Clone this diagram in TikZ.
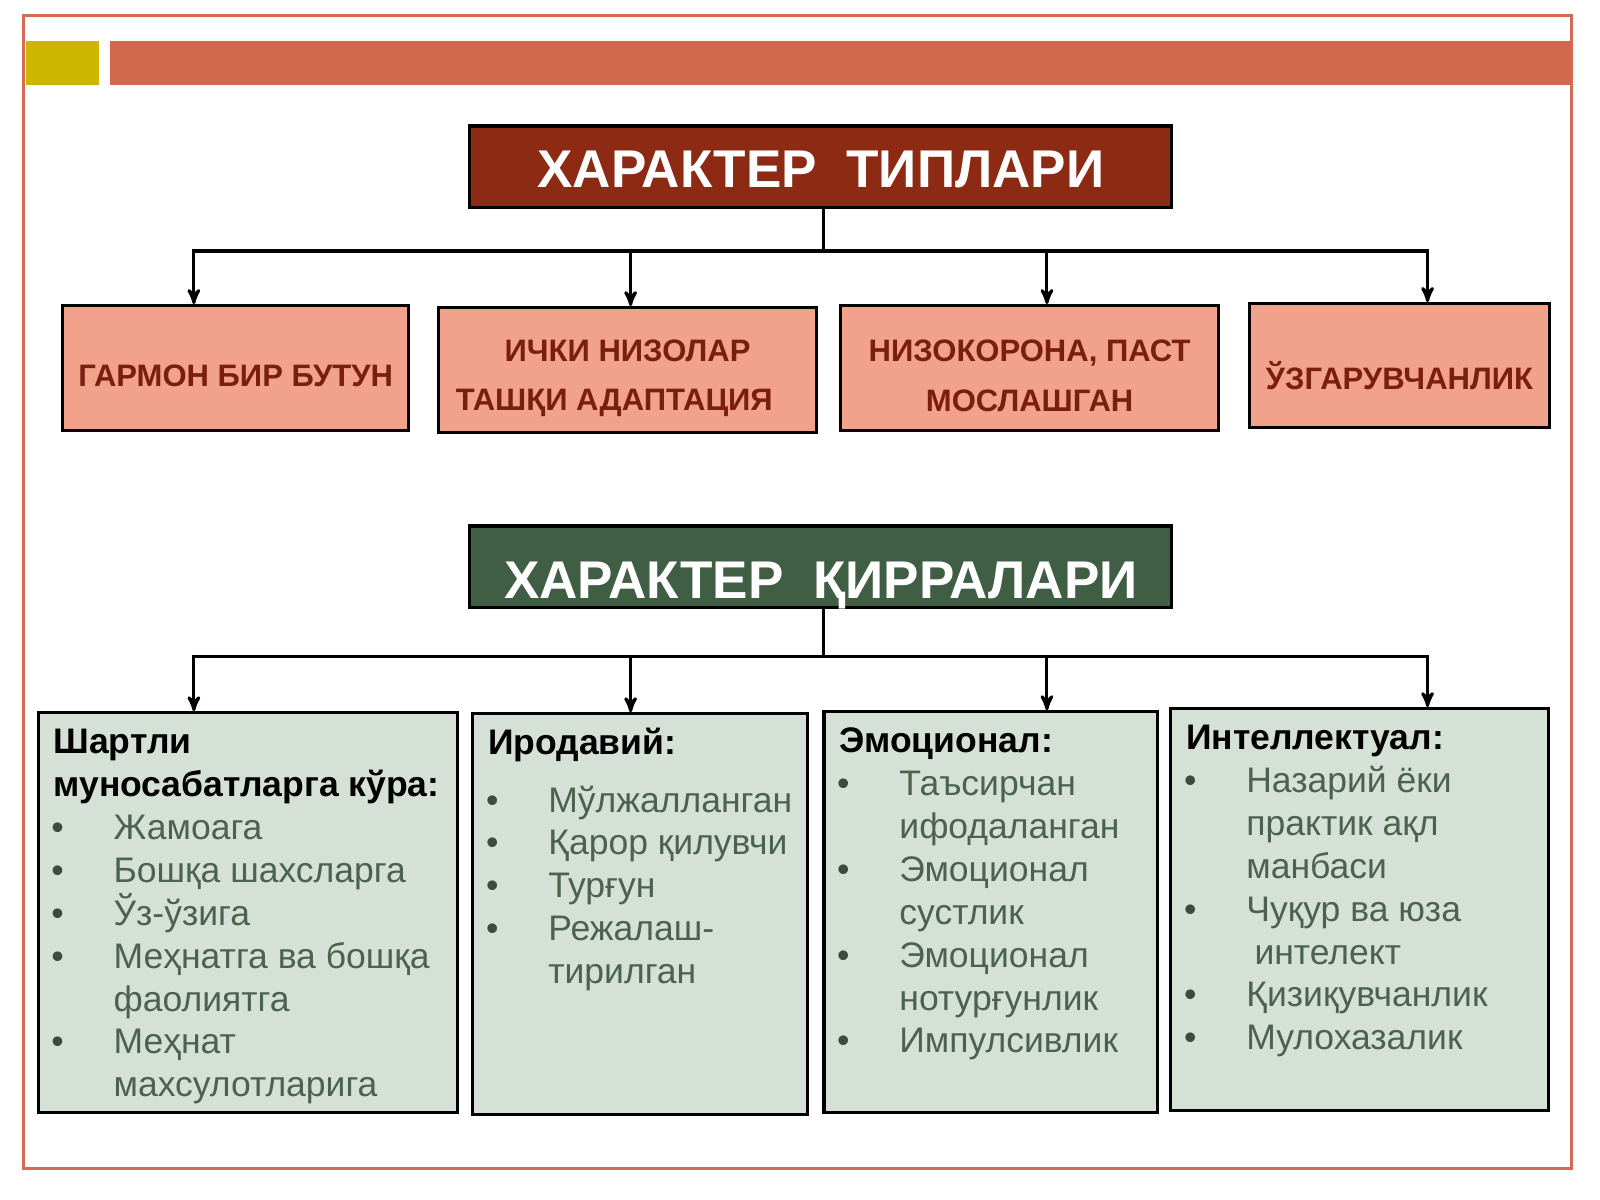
\documentclass[tikz,border=0pt]{standalone}
\usepackage{fontspec}
\setmainfont{Liberation Sans}
\usetikzlibrary{positioning,arrows}
\definecolor{frameRed}{HTML}{D86A55}
\definecolor{barRed}{HTML}{D2684E}
\definecolor{barYellow}{HTML}{CDB500}
\definecolor{titleRed}{HTML}{8C2A14}
\definecolor{titleGreen}{HTML}{3F5E44}
\definecolor{typeFill}{HTML}{F2A18B}
\definecolor{typeText}{HTML}{7A1F0F}
\definecolor{sideFill}{HTML}{D5E0D6}
\definecolor{itemText}{HTML}{4B624F}
\definecolor{bulletGrey}{HTML}{3E4A40}
\newcommand{\itm}{\makebox[29.5pt][l]{\hspace*{-1pt}{\color{bulletGrey}\textbullet}}}
\newcommand{\cnt}{\hspace*{29.5pt}}
\newcommand{\hd}[1]{\strut{\color{black}\bfseries #1}}

\begin{document}
\begin{tikzpicture}[x = 0.5pt, y = -0.5pt, >= stealth', on grid, every text node part/.style = {align = center},
  kindtitle/.style = {draw = black, line width = 1.5pt, minimum width = 344pt, minimum height = 40pt, inner sep = 0pt, text = white, text depth = 0pt, font = \fontsize{26}{30}\selectfont\bfseries},
  typebox/.style = {draw = black, line width = 1.5pt, fill = typeFill, inner sep = 0pt},
  typetext/.style = {inner sep = 0pt, text = typeText, font = \fontsize{15.2}{24.25}\selectfont\bfseries},
  sidebox/.style = {draw = black, line width = 1.5pt, fill = sideFill, inner sep = 0pt},
  listtext/.style = {inner sep = 0pt, anchor = north west, every text node part/.style = {align = left}, text = itemText, font = \fontsize{17.4}{21}\selectfont},
  wire/.style = {line width = 1.5pt}]
	\useasboundingbox (0,0) rectangle (1568,1176);
	\draw[frameRed, line width = 1.5pt] (23,15) rectangle (1540,1145);
	\fill[barYellow] (25,40) rectangle (97,83);
	\fill[barRed] (108,40) rectangle (1540,83);

	\node[kindtitle, fill = titleRed, text height = 20pt] (tt) at (804.5,163.5) {ХАРАКТЕР\ \ ТИПЛАРИ};
	\node[typebox, minimum width = 169.5pt, minimum height = 61pt] (t1) [below left = 98.5pt and 286.75pt of tt] {};
	\node[typebox, minimum width = 185.5pt, minimum height = 61pt] (t2) [below left = 99.5pt and 94.75pt of tt] {};
	\node[typebox, minimum width = 185.5pt, minimum height = 61pt] (t3) [below right = 98.5pt and 102.25pt of tt] {};
	\node[typebox, minimum width = 147pt, minimum height = 60.5pt] (t4) [below right = 97.25pt and 283.5pt of tt] {};
	\node[typetext] (t1txt) at ([yshift = -4pt]t1.center) {ГАРМОН БИР БУТУН};
	\node[typetext] (t2txt) at ([yshift = -4pt]t2.center) {ИЧКИ НИЗОЛАР\\ ТАШҚИ АДАПТАЦИЯ\hspace*{13pt}};
	\node[typetext] (t3txt) at ([yshift = -4pt]t3.center) {НИЗОКОРОНА, ПАСТ\\ МОСЛАШГАН};
	\node[typetext] (t4txt) at ([yshift = -5pt]t4.center) {ЎЗГАРУВЧАНЛИК};

	\node[kindtitle, fill = titleGreen, text height = 30.6pt] (tk) [below = 196pt of tt] {ХАРАКТЕР\ \ ҚИРРАЛАРИ};
	\node[sidebox, minimum width = 205.5pt, minimum height = 196pt] (k1) [below left = 169.5pt and 280.75pt of tk] {};
	\node[sidebox, minimum width = 164pt, minimum height = 196.5pt] (k2) [below left = 170.25pt and 88.5pt of tk] {};
	\node[sidebox, minimum width = 163.5pt, minimum height = 196.5pt] (k3) [below right = 169.25pt and 83.25pt of tk] {};
	\node[sidebox, minimum width = 185pt, minimum height = 197pt] (k4) [below right = 168pt and 264pt of tk] {};

	\node[listtext] (k1txt) at ([xshift = 8pt, yshift = -6pt]k1.north west) {\hd{Шартли}\\ \hd{муносабатларга кўра:}\\ \itm Жамоага\\ \itm Бошқа шахсларга\\ \itm Ўз-ўзига\\ \itm Меҳнатга ва бошқа\\ \cnt фаолиятга\\ \itm Меҳнат\\ \cnt махсулотларига};
	\node[listtext] (k2txt) at ([xshift = 8pt, yshift = -6pt]k2.north west) {\hd{Иродавий:}\\[7pt] \itm Мўлжалланган\\ \itm Қарор қилувчи\\ \itm Турғун\\ \itm Режалаш-\\ \cnt тирилган};
	\node[listtext] (k3txt) at ([xshift = 8pt, yshift = -6pt]k3.north west) {\hd{Эмоционал:}\\ \itm Таъсирчан\\ \cnt ифодаланган\\ \itm Эмоционал\\ \cnt сустлик\\ \itm Эмоционал\\ \cnt нотурғунлик\\ \itm Импулсивлик};
	\node[listtext] (k4txt) at ([xshift = 8pt, yshift = -6pt]k4.north west) {\hd{Интеллектуал:}\\ \itm Назарий ёки\\ \cnt практик ақл\\ \cnt манбаси\\ \itm Чуқур ва юза\\ \cnt\hspace*{4pt}интелект\\ \itm Қизиқувчанлик\\ \itm Мулохазалик};

	\coordinate (busT) at (807,246);
	\coordinate (busK) at (807,643);
	\draw[wire] (tt.south -| busT) -- (busT);
	\draw[wire] (tk.south -| busK) -- (busK);
	\foreach \n/\s in {t1/-20.5, t2/1.5, t3/8.5, t4/13.75}
		\draw[wire, ->] (busT) -| ([xshift = \s pt]\n.north);
	\foreach \n/\s in {k1/-26.5, k2/-4.75, k3/27.5, k4/33.25}
		\draw[wire, ->] (busK) -| ([xshift = \s pt]\n.north);
\end{tikzpicture}
\end{document}
